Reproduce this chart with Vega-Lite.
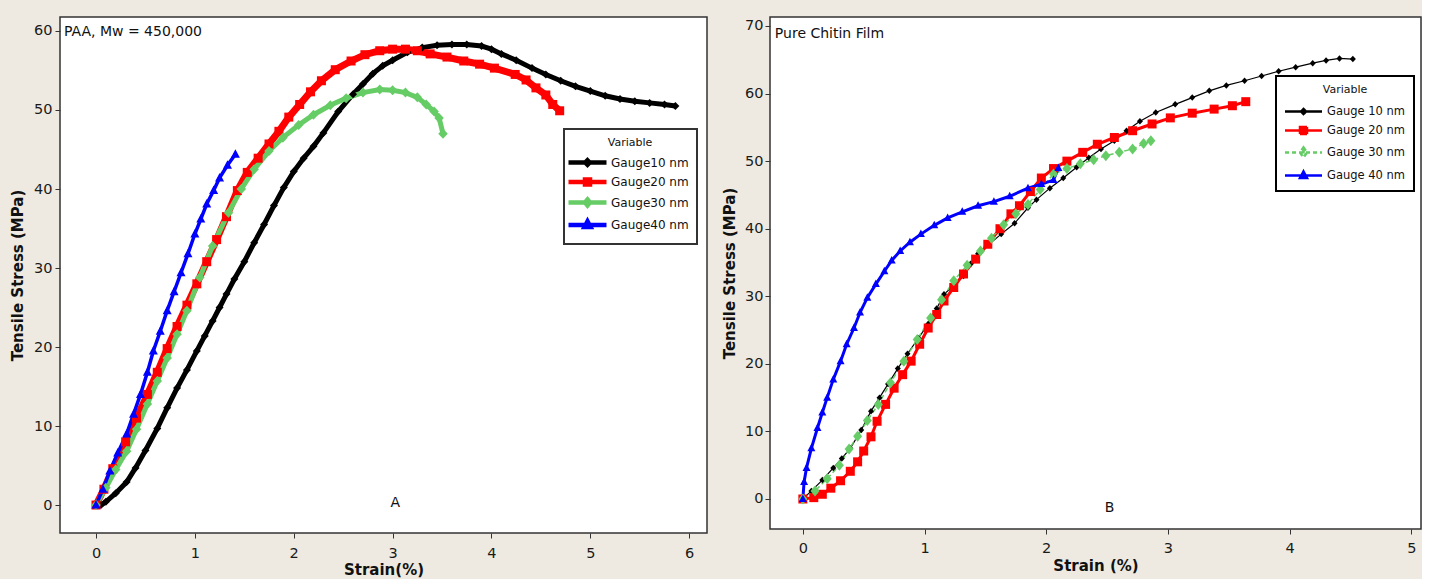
{
"$schema": "https://vega.github.io/schema/vega-lite/v6.json",
"background": "#eeeae1",
"padding": {"left": 9, "top": 16, "right": 0, "bottom": 0},
"spacing": 13,
"resolve": {"scale": {"shape": "independent", "color": "independent", "strokeDash": "independent"}, "legend": {"shape": "independent", "color": "independent", "strokeDash": "independent"}},
"config": {
  "view": {"stroke": "#333333", "strokeWidth": 1.5, "fill": "white"},
  "axis": {"grid": false, "domain": false, "tickColor": "#333333", "tickSize": 5, "format": "d", "labelFont": "DejaVu Sans", "labelFontSize": 14.5, "labelColor": "#1a1a1a", "titleFont": "DejaVu Sans", "titleFontSize": 15, "titleFontWeight": "bold", "titleColor": "#111111"},
  "legend": {"strokeWidth": 2},
  "text": {"font": "DejaVu Sans"}
},
"datasets": {
  "paa": [
    {"series":"Gauge10 nm","strain":0.05,"stress":0},{"series":"Gauge10 nm","strain":0.1,"stress":0.4},{"series":"Gauge10 nm","strain":0.2,"stress":1.5},{"series":"Gauge10 nm","strain":0.31,"stress":2.9},{"series":"Gauge10 nm","strain":0.4,"stress":4.7},{"series":"Gauge10 nm","strain":0.5,"stress":6.9},{"series":"Gauge10 nm","strain":0.62,"stress":9.7},{"series":"Gauge10 nm","strain":0.72,"stress":12.3},{"series":"Gauge10 nm","strain":0.82,"stress":14.8},{"series":"Gauge10 nm","strain":0.92,"stress":17.1},{"series":"Gauge10 nm","strain":1.02,"stress":19.5},{"series":"Gauge10 nm","strain":1.1,"stress":21.4},{"series":"Gauge10 nm","strain":1.18,"stress":23.3},{"series":"Gauge10 nm","strain":1.25,"stress":25},{"series":"Gauge10 nm","strain":1.32,"stress":26.7},{"series":"Gauge10 nm","strain":1.4,"stress":28.6},{"series":"Gauge10 nm","strain":1.5,"stress":30.8},{"series":"Gauge10 nm","strain":1.6,"stress":33.2},{"series":"Gauge10 nm","strain":1.7,"stress":35.5},{"series":"Gauge10 nm","strain":1.8,"stress":37.9},{"series":"Gauge10 nm","strain":1.9,"stress":40.2},{"series":"Gauge10 nm","strain":2.0,"stress":42.2},{"series":"Gauge10 nm","strain":2.1,"stress":43.9},{"series":"Gauge10 nm","strain":2.2,"stress":45.4},{"series":"Gauge10 nm","strain":2.3,"stress":47.1},{"series":"Gauge10 nm","strain":2.45,"stress":49.8},{"series":"Gauge10 nm","strain":2.6,"stress":52},{"series":"Gauge10 nm","strain":2.7,"stress":53.3},{"series":"Gauge10 nm","strain":2.8,"stress":54.6},{"series":"Gauge10 nm","strain":2.9,"stress":55.6},{"series":"Gauge10 nm","strain":3.0,"stress":56.3},{"series":"Gauge10 nm","strain":3.15,"stress":57.3},{"series":"Gauge10 nm","strain":3.3,"stress":57.9},{"series":"Gauge10 nm","strain":3.45,"stress":58.2},{"series":"Gauge10 nm","strain":3.6,"stress":58.3},{"series":"Gauge10 nm","strain":3.75,"stress":58.3},{"series":"Gauge10 nm","strain":3.9,"stress":58.1},{"series":"Gauge10 nm","strain":4.0,"stress":57.7},{"series":"Gauge10 nm","strain":4.1,"stress":57.1},{"series":"Gauge10 nm","strain":4.25,"stress":56.3},{"series":"Gauge10 nm","strain":4.41,"stress":55.3},{"series":"Gauge10 nm","strain":4.55,"stress":54.5},{"series":"Gauge10 nm","strain":4.7,"stress":53.7},{"series":"Gauge10 nm","strain":4.85,"stress":53.0},{"series":"Gauge10 nm","strain":5.0,"stress":52.4},{"series":"Gauge10 nm","strain":5.15,"stress":51.8},{"series":"Gauge10 nm","strain":5.3,"stress":51.4},{"series":"Gauge10 nm","strain":5.45,"stress":51.1},{"series":"Gauge10 nm","strain":5.6,"stress":50.9},{"series":"Gauge10 nm","strain":5.75,"stress":50.7},{"series":"Gauge10 nm","strain":5.86,"stress":50.5},
    {"series":"Gauge20 nm","strain":0,"stress":0},{"series":"Gauge20 nm","strain":0.08,"stress":2},{"series":"Gauge20 nm","strain":0.17,"stress":4.6},{"series":"Gauge20 nm","strain":0.3,"stress":8},{"series":"Gauge20 nm","strain":0.41,"stress":11},{"series":"Gauge20 nm","strain":0.52,"stress":14},{"series":"Gauge20 nm","strain":0.62,"stress":16.8},{"series":"Gauge20 nm","strain":0.72,"stress":19.8},{"series":"Gauge20 nm","strain":0.82,"stress":22.6},{"series":"Gauge20 nm","strain":0.92,"stress":25.3},{"series":"Gauge20 nm","strain":1.02,"stress":28},{"series":"Gauge20 nm","strain":1.12,"stress":30.8},{"series":"Gauge20 nm","strain":1.22,"stress":33.6},{"series":"Gauge20 nm","strain":1.32,"stress":36.5},{"series":"Gauge20 nm","strain":1.43,"stress":39.8},{"series":"Gauge20 nm","strain":1.53,"stress":42.1},{"series":"Gauge20 nm","strain":1.64,"stress":43.9},{"series":"Gauge20 nm","strain":1.75,"stress":45.7},{"series":"Gauge20 nm","strain":1.85,"stress":47.3},{"series":"Gauge20 nm","strain":1.95,"stress":49.1},{"series":"Gauge20 nm","strain":2.06,"stress":50.7},{"series":"Gauge20 nm","strain":2.17,"stress":52.3},{"series":"Gauge20 nm","strain":2.28,"stress":53.7},{"series":"Gauge20 nm","strain":2.42,"stress":55.1},{"series":"Gauge20 nm","strain":2.58,"stress":56.2},{"series":"Gauge20 nm","strain":2.72,"stress":57},{"series":"Gauge20 nm","strain":2.87,"stress":57.5},{"series":"Gauge20 nm","strain":3.0,"stress":57.7},{"series":"Gauge20 nm","strain":3.13,"stress":57.7},{"series":"Gauge20 nm","strain":3.25,"stress":57.5},{"series":"Gauge20 nm","strain":3.38,"stress":57.1},{"series":"Gauge20 nm","strain":3.55,"stress":56.7},{"series":"Gauge20 nm","strain":3.72,"stress":56.2},{"series":"Gauge20 nm","strain":3.88,"stress":55.8},{"series":"Gauge20 nm","strain":4.03,"stress":55.3},{"series":"Gauge20 nm","strain":4.24,"stress":54.5},{"series":"Gauge20 nm","strain":4.35,"stress":53.8},{"series":"Gauge20 nm","strain":4.45,"stress":52.8},{"series":"Gauge20 nm","strain":4.55,"stress":51.9},{"series":"Gauge20 nm","strain":4.62,"stress":50.7},{"series":"Gauge20 nm","strain":4.69,"stress":49.9},
    {"series":"Gauge30 nm","strain":0,"stress":0},{"series":"Gauge30 nm","strain":0.1,"stress":2.2},{"series":"Gauge30 nm","strain":0.2,"stress":4.5},{"series":"Gauge30 nm","strain":0.31,"stress":6.8},{"series":"Gauge30 nm","strain":0.41,"stress":9.6},{"series":"Gauge30 nm","strain":0.52,"stress":12.8},{"series":"Gauge30 nm","strain":0.62,"stress":15.7},{"series":"Gauge30 nm","strain":0.72,"stress":18.6},{"series":"Gauge30 nm","strain":0.82,"stress":21.6},{"series":"Gauge30 nm","strain":0.92,"stress":24.6},{"series":"Gauge30 nm","strain":1.05,"stress":28.8},{"series":"Gauge30 nm","strain":1.18,"stress":32.8},{"series":"Gauge30 nm","strain":1.34,"stress":37},{"series":"Gauge30 nm","strain":1.47,"stress":40},{"series":"Gauge30 nm","strain":1.6,"stress":42.5},{"series":"Gauge30 nm","strain":1.75,"stress":44.8},{"series":"Gauge30 nm","strain":1.89,"stress":46.5},{"series":"Gauge30 nm","strain":2.05,"stress":48.1},{"series":"Gauge30 nm","strain":2.2,"stress":49.4},{"series":"Gauge30 nm","strain":2.37,"stress":50.6},{"series":"Gauge30 nm","strain":2.53,"stress":51.5},{"series":"Gauge30 nm","strain":2.7,"stress":52.2},{"series":"Gauge30 nm","strain":2.87,"stress":52.6},{"series":"Gauge30 nm","strain":3.0,"stress":52.5},{"series":"Gauge30 nm","strain":3.13,"stress":52.2},{"series":"Gauge30 nm","strain":3.25,"stress":51.6},{"series":"Gauge30 nm","strain":3.34,"stress":50.7},{"series":"Gauge30 nm","strain":3.42,"stress":49.8},{"series":"Gauge30 nm","strain":3.47,"stress":49},{"series":"Gauge30 nm","strain":3.51,"stress":47},
    {"series":"Gauge40 nm","strain":0,"stress":0},{"series":"Gauge40 nm","strain":0.07,"stress":2},{"series":"Gauge40 nm","strain":0.14,"stress":4.3},{"series":"Gauge40 nm","strain":0.22,"stress":6.6},{"series":"Gauge40 nm","strain":0.31,"stress":9},{"series":"Gauge40 nm","strain":0.38,"stress":11.5},{"series":"Gauge40 nm","strain":0.45,"stress":14},{"series":"Gauge40 nm","strain":0.52,"stress":16.8},{"series":"Gauge40 nm","strain":0.58,"stress":19.5},{"series":"Gauge40 nm","strain":0.65,"stress":22},{"series":"Gauge40 nm","strain":0.72,"stress":24.6},{"series":"Gauge40 nm","strain":0.79,"stress":27},{"series":"Gauge40 nm","strain":0.86,"stress":29.4},{"series":"Gauge40 nm","strain":0.93,"stress":31.8},{"series":"Gauge40 nm","strain":1.0,"stress":34.3},{"series":"Gauge40 nm","strain":1.06,"stress":36.2},{"series":"Gauge40 nm","strain":1.12,"stress":38.1},{"series":"Gauge40 nm","strain":1.19,"stress":39.8},{"series":"Gauge40 nm","strain":1.25,"stress":41.4},{"series":"Gauge40 nm","strain":1.33,"stress":43},{"series":"Gauge40 nm","strain":1.41,"stress":44.4}
  ],
  "chitin": [
    {"series":"Gauge 10 nm","strain":0,"stress":0},{"series":"Gauge 10 nm","strain":0.07,"stress":1.2},{"series":"Gauge 10 nm","strain":0.16,"stress":2.8},{"series":"Gauge 10 nm","strain":0.25,"stress":4.6},{"series":"Gauge 10 nm","strain":0.32,"stress":6},{"series":"Gauge 10 nm","strain":0.39,"stress":7.5},{"series":"Gauge 10 nm","strain":0.48,"stress":10.2},{"series":"Gauge 10 nm","strain":0.56,"stress":13},{"series":"Gauge 10 nm","strain":0.63,"stress":15},{"series":"Gauge 10 nm","strain":0.7,"stress":17},{"series":"Gauge 10 nm","strain":0.78,"stress":19.3},{"series":"Gauge 10 nm","strain":0.86,"stress":21.5},{"series":"Gauge 10 nm","strain":0.95,"stress":23.8},{"series":"Gauge 10 nm","strain":1.03,"stress":25.9},{"series":"Gauge 10 nm","strain":1.1,"stress":28.2},{"series":"Gauge 10 nm","strain":1.16,"stress":30.3},{"series":"Gauge 10 nm","strain":1.24,"stress":31.6},{"series":"Gauge 10 nm","strain":1.32,"stress":33},{"series":"Gauge 10 nm","strain":1.38,"stress":34.8},{"series":"Gauge 10 nm","strain":1.44,"stress":36.3},{"series":"Gauge 10 nm","strain":1.53,"stress":37.7},{"series":"Gauge 10 nm","strain":1.63,"stress":39.2},{"series":"Gauge 10 nm","strain":1.74,"stress":40.8},{"series":"Gauge 10 nm","strain":1.85,"stress":43.1},{"series":"Gauge 10 nm","strain":1.92,"stress":44.3},{"series":"Gauge 10 nm","strain":2.03,"stress":46},{"series":"Gauge 10 nm","strain":2.14,"stress":47.5},{"series":"Gauge 10 nm","strain":2.25,"stress":49.1},{"series":"Gauge 10 nm","strain":2.35,"stress":50.5},{"series":"Gauge 10 nm","strain":2.45,"stress":51.8},{"series":"Gauge 10 nm","strain":2.56,"stress":53},{"series":"Gauge 10 nm","strain":2.66,"stress":54.5},{"series":"Gauge 10 nm","strain":2.77,"stress":55.9},{"series":"Gauge 10 nm","strain":2.9,"stress":57.2},{"series":"Gauge 10 nm","strain":3.06,"stress":58.4},{"series":"Gauge 10 nm","strain":3.2,"stress":59.4},{"series":"Gauge 10 nm","strain":3.34,"stress":60.4},{"series":"Gauge 10 nm","strain":3.48,"stress":61.2},{"series":"Gauge 10 nm","strain":3.63,"stress":61.9},{"series":"Gauge 10 nm","strain":3.77,"stress":62.6},{"series":"Gauge 10 nm","strain":3.91,"stress":63.3},{"series":"Gauge 10 nm","strain":4.05,"stress":63.9},{"series":"Gauge 10 nm","strain":4.19,"stress":64.5},{"series":"Gauge 10 nm","strain":4.3,"stress":64.9},{"series":"Gauge 10 nm","strain":4.41,"stress":65.2},{"series":"Gauge 10 nm","strain":4.52,"stress":65.1},
    {"series":"Gauge 20 nm","strain":0,"stress":0},{"series":"Gauge 20 nm","strain":0.09,"stress":0.2},{"series":"Gauge 20 nm","strain":0.16,"stress":0.7},{"series":"Gauge 20 nm","strain":0.23,"stress":1.6},{"series":"Gauge 20 nm","strain":0.31,"stress":2.7},{"series":"Gauge 20 nm","strain":0.39,"stress":4.1},{"series":"Gauge 20 nm","strain":0.45,"stress":5.5},{"series":"Gauge 20 nm","strain":0.5,"stress":7.1},{"series":"Gauge 20 nm","strain":0.56,"stress":9.2},{"series":"Gauge 20 nm","strain":0.61,"stress":11.5},{"series":"Gauge 20 nm","strain":0.68,"stress":14},{"series":"Gauge 20 nm","strain":0.75,"stress":16.4},{"series":"Gauge 20 nm","strain":0.82,"stress":18.4},{"series":"Gauge 20 nm","strain":0.89,"stress":20.4},{"series":"Gauge 20 nm","strain":0.96,"stress":22.9},{"series":"Gauge 20 nm","strain":1.03,"stress":25.3},{"series":"Gauge 20 nm","strain":1.1,"stress":27.3},{"series":"Gauge 20 nm","strain":1.16,"stress":29.3},{"series":"Gauge 20 nm","strain":1.24,"stress":31.3},{"series":"Gauge 20 nm","strain":1.32,"stress":33.3},{"series":"Gauge 20 nm","strain":1.42,"stress":35.5},{"series":"Gauge 20 nm","strain":1.52,"stress":37.7},{"series":"Gauge 20 nm","strain":1.62,"stress":40},{"series":"Gauge 20 nm","strain":1.71,"stress":42.2},{"series":"Gauge 20 nm","strain":1.78,"stress":43.4},{"series":"Gauge 20 nm","strain":1.87,"stress":45.5},{"series":"Gauge 20 nm","strain":1.96,"stress":47.5},{"series":"Gauge 20 nm","strain":2.06,"stress":48.9},{"series":"Gauge 20 nm","strain":2.17,"stress":50},{"series":"Gauge 20 nm","strain":2.3,"stress":51.3},{"series":"Gauge 20 nm","strain":2.42,"stress":52.5},{"series":"Gauge 20 nm","strain":2.56,"stress":53.5},{"series":"Gauge 20 nm","strain":2.71,"stress":54.5},{"series":"Gauge 20 nm","strain":2.87,"stress":55.5},{"series":"Gauge 20 nm","strain":3.02,"stress":56.4},{"series":"Gauge 20 nm","strain":3.2,"stress":57.1},{"series":"Gauge 20 nm","strain":3.38,"stress":57.7},{"series":"Gauge 20 nm","strain":3.53,"stress":58.2},{"series":"Gauge 20 nm","strain":3.64,"stress":58.8},
    {"series":"Gauge 30 nm","strain":0,"stress":0},{"series":"Gauge 30 nm","strain":0.1,"stress":1.2},{"series":"Gauge 30 nm","strain":0.2,"stress":3},{"series":"Gauge 30 nm","strain":0.3,"stress":5},{"series":"Gauge 30 nm","strain":0.38,"stress":7.4},{"series":"Gauge 30 nm","strain":0.45,"stress":9.3},{"series":"Gauge 30 nm","strain":0.53,"stress":11.6},{"series":"Gauge 30 nm","strain":0.62,"stress":14},{"series":"Gauge 30 nm","strain":0.72,"stress":17.2},{"series":"Gauge 30 nm","strain":0.83,"stress":20.4},{"series":"Gauge 30 nm","strain":0.94,"stress":23.6},{"series":"Gauge 30 nm","strain":1.05,"stress":26.8},{"series":"Gauge 30 nm","strain":1.14,"stress":29.5},{"series":"Gauge 30 nm","strain":1.24,"stress":32.3},{"series":"Gauge 30 nm","strain":1.35,"stress":34.6},{"series":"Gauge 30 nm","strain":1.46,"stress":36.7},{"series":"Gauge 30 nm","strain":1.55,"stress":38.6},{"series":"Gauge 30 nm","strain":1.65,"stress":40.6},{"series":"Gauge 30 nm","strain":1.75,"stress":42.2},{"series":"Gauge 30 nm","strain":1.85,"stress":43.6},{"series":"Gauge 30 nm","strain":1.95,"stress":45.8},{"series":"Gauge 30 nm","strain":2.06,"stress":48.1},{"series":"Gauge 30 nm","strain":2.17,"stress":48.9},{"series":"Gauge 30 nm","strain":2.28,"stress":49.6},{"series":"Gauge 30 nm","strain":2.39,"stress":50.2},{"series":"Gauge 30 nm","strain":2.49,"stress":50.8},{"series":"Gauge 30 nm","strain":2.6,"stress":51.3},{"series":"Gauge 30 nm","strain":2.71,"stress":51.8},{"series":"Gauge 30 nm","strain":2.8,"stress":52.6},{"series":"Gauge 30 nm","strain":2.86,"stress":53},
    {"series":"Gauge 40 nm","strain":0,"stress":0},{"series":"Gauge 40 nm","strain":0.01,"stress":2.5},{"series":"Gauge 40 nm","strain":0.03,"stress":4.6},{"series":"Gauge 40 nm","strain":0.07,"stress":7.5},{"series":"Gauge 40 nm","strain":0.12,"stress":10.5},{"series":"Gauge 40 nm","strain":0.16,"stress":12.8},{"series":"Gauge 40 nm","strain":0.2,"stress":15},{"series":"Gauge 40 nm","strain":0.25,"stress":17.7},{"series":"Gauge 40 nm","strain":0.31,"stress":20.4},{"series":"Gauge 40 nm","strain":0.36,"stress":22.9},{"series":"Gauge 40 nm","strain":0.42,"stress":25.3},{"series":"Gauge 40 nm","strain":0.47,"stress":27.6},{"series":"Gauge 40 nm","strain":0.53,"stress":29.8},{"series":"Gauge 40 nm","strain":0.6,"stress":31.8},{"series":"Gauge 40 nm","strain":0.67,"stress":33.7},{"series":"Gauge 40 nm","strain":0.73,"stress":35.3},{"series":"Gauge 40 nm","strain":0.8,"stress":36.7},{"series":"Gauge 40 nm","strain":0.88,"stress":38},{"series":"Gauge 40 nm","strain":0.97,"stress":39.2},{"series":"Gauge 40 nm","strain":1.08,"stress":40.5},{"series":"Gauge 40 nm","strain":1.19,"stress":41.6},{"series":"Gauge 40 nm","strain":1.31,"stress":42.5},{"series":"Gauge 40 nm","strain":1.44,"stress":43.4},{"series":"Gauge 40 nm","strain":1.57,"stress":44},{"series":"Gauge 40 nm","strain":1.7,"stress":44.8},{"series":"Gauge 40 nm","strain":1.85,"stress":46},{"series":"Gauge 40 nm","strain":1.96,"stress":46.6},{"series":"Gauge 40 nm","strain":2.06,"stress":47.2},{"series":"Gauge 40 nm","strain":2.1,"stress":49}
  ]
},
"hconcat": [
  {
    "width": 647, "height": 516,
    "layer": [
      {
        "data": {"name": "paa"},
        "mark": {"type": "point", "filled": false, "opacity": 0, "size": 100, "strokeWidth": 4.5},
        "encoding": {
          "x": {"field": "strain", "type": "quantitative", "scale": {"domain": [-0.364, 6.18], "nice": false, "zero": false}, "axis": {"title": "Strain(%)", "values": [0,1,2,3,4,5,6], "labelPadding": 8, "titlePadding": 3}},
          "y": {"field": "stress", "type": "quantitative", "scale": {"domain": [-3.54, 61.77], "nice": false, "zero": false}, "axis": {"title": "Tensile Stress (MPa)", "values": [0,10,20,30,40,50,60], "labelPadding": 3, "titlePadding": 8}},
          "color": {"field": "series", "type": "nominal",
            "scale": {"domain": ["Gauge10 nm","Gauge20 nm","Gauge30 nm","Gauge40 nm"], "range": ["#000000","#ff0000","#66cc66","#0000ff"]},
            "legend": {"orient": "none", "legendX": 504, "legendY": 112, "title": "Variable", "titleFont": "DejaVu Sans", "titleFontSize": 11, "titleFontWeight": "normal", "titleColor": "#111111", "titleAnchor": "middle", "titlePadding": 7, "labelFont": "DejaVu Sans", "labelFontSize": 12, "labelColor": "#111111", "labelOffset": 16, "symbolSize": 100, "symbolOffset": 8, "symbolOpacity": 1, "symbolStrokeWidth": 4.5, "rowPadding": -3.5, "padding": 8, "fillColor": "white", "strokeColor": "#333333"}},
          "shape": {"field": "series", "type": "nominal",
            "scale": {"domain": ["Gauge10 nm","Gauge20 nm","Gauge30 nm","Gauge40 nm"], "range": ["M-3.8,0H3.8M0,-0.45L0.45,0L0,0.45L-0.45,0Z","M-3.8,0H3.8M-0.5,-0.5H0.5V0.5H-0.5Z","M-3.8,0H3.8M0,-0.6L0.5,0L0,0.6L-0.5,0Z","M-3.8,0H3.8M0,-0.75L0.6,0.4H-0.6Z"]},
            "legend": {"orient": "none", "legendX": 504, "legendY": 112, "title": "Variable", "titleFont": "DejaVu Sans", "titleFontSize": 11, "titleFontWeight": "normal", "titleColor": "#111111", "titleAnchor": "middle", "titlePadding": 7, "labelFont": "DejaVu Sans", "labelFontSize": 12, "labelColor": "#111111", "labelOffset": 16, "symbolSize": 100, "symbolOffset": 8, "symbolOpacity": 1, "symbolStrokeWidth": 4.5, "rowPadding": -3.5, "padding": 8, "fillColor": "white", "strokeColor": "#333333"}}
        }
      },
      {"data": {"name": "paa"}, "transform": [{"filter": {"field": "series", "equal": "Gauge10 nm"}}], "mark": {"type": "line", "color": "#000000", "strokeWidth": 5}, "encoding": {"x": {"field": "strain", "type": "quantitative"}, "y": {"field": "stress", "type": "quantitative"}}},
      {"data": {"name": "paa"}, "transform": [{"filter": {"field": "series", "equal": "Gauge20 nm"}}], "mark": {"type": "line", "color": "#ff0000", "strokeWidth": 7}, "encoding": {"x": {"field": "strain", "type": "quantitative"}, "y": {"field": "stress", "type": "quantitative"}}},
      {"data": {"name": "paa"}, "transform": [{"filter": {"field": "series", "equal": "Gauge30 nm"}}], "mark": {"type": "line", "color": "#66cc66", "strokeWidth": 5}, "encoding": {"x": {"field": "strain", "type": "quantitative"}, "y": {"field": "stress", "type": "quantitative"}}},
      {"data": {"name": "paa"}, "transform": [{"filter": {"field": "series", "equal": "Gauge40 nm"}}], "mark": {"type": "line", "color": "#0000ff", "strokeWidth": 3.5}, "encoding": {"x": {"field": "strain", "type": "quantitative"}, "y": {"field": "stress", "type": "quantitative"}}},
      {"data": {"name": "paa"}, "transform": [{"filter": {"field": "series", "equal": "Gauge10 nm"}}], "mark": {"type": "point", "shape": "M0,-0.8L0.8,0L0,0.8L-0.8,0Z", "filled": true, "opacity": 1, "size": 100, "strokeWidth": 0, "color": "#000000"}, "encoding": {"x": {"field": "strain", "type": "quantitative"}, "y": {"field": "stress", "type": "quantitative"}}},
      {"data": {"name": "paa"}, "transform": [{"filter": {"field": "series", "equal": "Gauge20 nm"}}], "mark": {"type": "point", "shape": "M-0.9,-0.9H0.9V0.9H-0.9Z", "filled": true, "opacity": 1, "size": 100, "strokeWidth": 0, "color": "#ff0000"}, "encoding": {"x": {"field": "strain", "type": "quantitative"}, "y": {"field": "stress", "type": "quantitative"}}},
      {"data": {"name": "paa"}, "transform": [{"filter": {"field": "series", "equal": "Gauge30 nm"}}], "mark": {"type": "point", "shape": "M0,-1L0.95,0L0,1L-0.95,0Z", "filled": true, "opacity": 1, "size": 100, "strokeWidth": 0, "color": "#66cc66"}, "encoding": {"x": {"field": "strain", "type": "quantitative"}, "y": {"field": "stress", "type": "quantitative"}}},
      {"data": {"name": "paa"}, "transform": [{"filter": {"field": "series", "equal": "Gauge40 nm"}}], "mark": {"type": "point", "shape": "M0,-1L0.9,0.7H-0.9Z", "filled": true, "opacity": 1, "size": 100, "strokeWidth": 0, "color": "#0000ff"}, "encoding": {"x": {"field": "strain", "type": "quantitative"}, "y": {"field": "stress", "type": "quantitative"}}},
      {
        "data": {"values": [{"label": "PAA, Mw = 450,000", "strain": -0.324, "stress": 59.9}, {"label": "A", "strain": 2.98, "stress": 0.25}]},
        "mark": {"type": "text", "align": "left", "baseline": "middle", "fontSize": 14, "color": "#111111"},
        "encoding": {"x": {"field": "strain", "type": "quantitative"}, "y": {"field": "stress", "type": "quantitative"}, "text": {"field": "label"}}
      }
    ]
  },
  {
    "width": 651, "height": 512,
    "layer": [
      {
        "data": {"name": "chitin"},
        "mark": {"type": "point", "filled": false, "opacity": 0, "size": 100, "strokeWidth": 2.5},
        "encoding": {
          "x": {"field": "strain", "type": "quantitative", "scale": {"domain": [-0.27, 5.08], "nice": false, "zero": false}, "axis": {"title": "Strain (%)", "values": [0,1,2,3,4,5], "labelPadding": 7, "titlePadding": 4}},
          "y": {"field": "stress", "type": "quantitative", "scale": {"domain": [-4.44, 71.33], "nice": false, "zero": false}, "axis": {"title": "Tensile Stress (MPa)", "values": [0,10,20,30,40,50,60,70], "labelPadding": 2, "titlePadding": 7}},
          "color": {"field": "series", "type": "nominal",
            "scale": {"domain": ["Gauge 10 nm","Gauge 20 nm","Gauge 30 nm","Gauge 40 nm"], "range": ["#000000","#ff0000","#66cc66","#0000ff"]},
            "legend": {"orient": "none", "legendX": 506, "legendY": 59, "title": "Variable", "titleFont": "DejaVu Sans", "titleFontSize": 11, "titleFontWeight": "normal", "titleColor": "#111111", "titleAnchor": "middle", "titlePadding": 10, "labelFont": "DejaVu Sans", "labelFontSize": 11.5, "labelColor": "#111111", "labelOffset": 17, "symbolSize": 100, "symbolOffset": 13, "symbolOpacity": 1, "symbolStrokeWidth": 2.5, "rowPadding": 3, "padding": 8, "fillColor": "white", "strokeColor": "#000000"}},
          "shape": {"field": "series", "type": "nominal",
            "scale": {"domain": ["Gauge 10 nm","Gauge 20 nm","Gauge 30 nm","Gauge 40 nm"], "range": ["M-3.7,0H3.7M0,-0.5L0.5,0L0,0.5L-0.5,0Z","M-3.7,0H3.7M-0.7,-0.7H0.7V0.7H-0.7ZM-0.7,-0.3H0.7M-0.7,0.3H0.7","M-3.7,0H3.7M0,-1L0.7,0L0,1L-0.7,0ZM0,-0.6V0.6","M-3.7,0H3.7M0,-0.8L0.7,0.5H-0.7ZM0,-0.3V0.5"]},
            "legend": {"orient": "none", "legendX": 506, "legendY": 59, "title": "Variable", "titleFont": "DejaVu Sans", "titleFontSize": 11, "titleFontWeight": "normal", "titleColor": "#111111", "titleAnchor": "middle", "titlePadding": 10, "labelFont": "DejaVu Sans", "labelFontSize": 11.5, "labelColor": "#111111", "labelOffset": 17, "symbolSize": 100, "symbolOffset": 13, "symbolOpacity": 1, "symbolStrokeWidth": 2.5, "rowPadding": 3, "padding": 8, "fillColor": "white", "strokeColor": "#000000"}},
          "strokeDash": {"field": "series", "type": "nominal",
            "scale": {"domain": ["Gauge 10 nm","Gauge 20 nm","Gauge 30 nm","Gauge 40 nm"], "range": [[1,0],[1,0],[4,3],[1,0]]},
            "legend": {"orient": "none", "legendX": 506, "legendY": 59, "title": "Variable", "titleFont": "DejaVu Sans", "titleFontSize": 11, "titleFontWeight": "normal", "titleColor": "#111111", "titleAnchor": "middle", "titlePadding": 10, "labelFont": "DejaVu Sans", "labelFontSize": 11.5, "labelColor": "#111111", "labelOffset": 17, "symbolSize": 100, "symbolOffset": 13, "symbolOpacity": 1, "symbolStrokeWidth": 2.5, "rowPadding": 3, "padding": 8, "fillColor": "white", "strokeColor": "#000000"}}
        }
      },
      {"data": {"name": "chitin"}, "transform": [{"filter": {"field": "series", "equal": "Gauge 10 nm"}}], "mark": {"type": "line", "color": "#000000", "strokeWidth": 1.2}, "encoding": {"x": {"field": "strain", "type": "quantitative"}, "y": {"field": "stress", "type": "quantitative"}}},
      {"data": {"name": "chitin"}, "transform": [{"filter": {"field": "series", "equal": "Gauge 20 nm"}}], "mark": {"type": "line", "color": "#ff0000", "strokeWidth": 3}, "encoding": {"x": {"field": "strain", "type": "quantitative"}, "y": {"field": "stress", "type": "quantitative"}}},
      {"data": {"name": "chitin"}, "transform": [{"filter": {"field": "series", "equal": "Gauge 30 nm"}}], "mark": {"type": "line", "color": "#66cc66", "strokeWidth": 1.5, "strokeDash": [5, 3]}, "encoding": {"x": {"field": "strain", "type": "quantitative"}, "y": {"field": "stress", "type": "quantitative"}}},
      {"data": {"name": "chitin"}, "transform": [{"filter": {"field": "series", "equal": "Gauge 40 nm"}}], "mark": {"type": "line", "color": "#0000ff", "strokeWidth": 3}, "encoding": {"x": {"field": "strain", "type": "quantitative"}, "y": {"field": "stress", "type": "quantitative"}}},
      {"data": {"name": "chitin"}, "transform": [{"filter": {"field": "series", "equal": "Gauge 10 nm"}}], "mark": {"type": "point", "shape": "M0,-0.65L0.6,0L0,0.65L-0.6,0Z", "filled": true, "opacity": 1, "size": 100, "strokeWidth": 0, "color": "#000000"}, "encoding": {"x": {"field": "strain", "type": "quantitative"}, "y": {"field": "stress", "type": "quantitative"}}},
      {"data": {"name": "chitin"}, "transform": [{"filter": {"field": "series", "equal": "Gauge 20 nm"}}], "mark": {"type": "point", "shape": "M-0.9,-0.9H0.9V0.9H-0.9Z", "filled": true, "opacity": 1, "size": 100, "strokeWidth": 0, "color": "#ff0000"}, "encoding": {"x": {"field": "strain", "type": "quantitative"}, "y": {"field": "stress", "type": "quantitative"}}},
      {"data": {"name": "chitin"}, "transform": [{"filter": {"field": "series", "equal": "Gauge 30 nm"}}], "mark": {"type": "point", "shape": "M0,-1.1L0.9,0L0,1.1L-0.9,0Z", "filled": true, "opacity": 1, "size": 100, "strokeWidth": 0, "color": "#66cc66"}, "encoding": {"x": {"field": "strain", "type": "quantitative"}, "y": {"field": "stress", "type": "quantitative"}}},
      {"data": {"name": "chitin"}, "transform": [{"filter": {"field": "series", "equal": "Gauge 40 nm"}}], "mark": {"type": "point", "shape": "M0,-0.9L0.8,0.6H-0.8Z", "filled": true, "opacity": 1, "size": 100, "strokeWidth": 0, "color": "#0000ff"}, "encoding": {"x": {"field": "strain", "type": "quantitative"}, "y": {"field": "stress", "type": "quantitative"}}},
      {
        "data": {"values": [{"label": "Pure Chitin Film", "strain": -0.23, "stress": 68.8}, {"label": "B", "strain": 2.48, "stress": -1.33}]},
        "mark": {"type": "text", "align": "left", "baseline": "middle", "fontSize": 14, "color": "#111111"},
        "encoding": {"x": {"field": "strain", "type": "quantitative"}, "y": {"field": "stress", "type": "quantitative"}, "text": {"field": "label"}}
      }
    ]
  }
]
}
